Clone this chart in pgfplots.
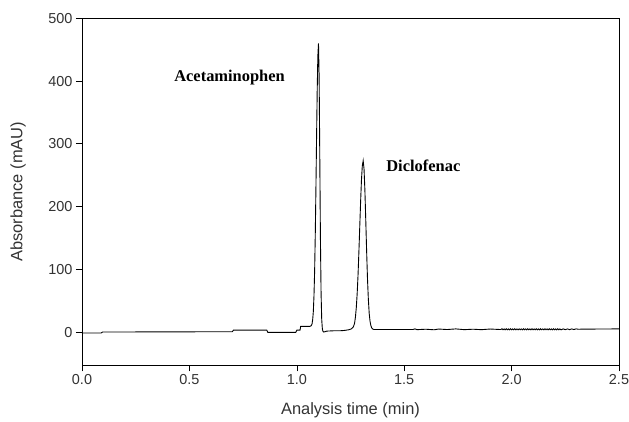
\documentclass[border=0pt]{standalone}
\usepackage{fontspec}
\setmainfont{Liberation Sans}
\newfontfamily\timesfont{Liberation Serif}
\usepackage{pgfplots}
\pgfplotsset{compat=1.18}
\definecolor{txtgray}{HTML}{333333}

\begin{document}
\begin{tikzpicture}
\begin{axis}[
    width=537bp, height=347bp, scale only axis,
    xmin=0, xmax=2.5, ymin=-53, ymax=500,
    xtick={0,0.5,...,2.5}, ytick={0,100,...,500},
    xtick pos=bottom, ytick pos=left,
    tick align=outside, major tick length=6bp,
    tick style={black, line width=0.6pt},
    axis line style={black, line width=0.7pt},
    x tick label style={/pgf/number format/fixed, /pgf/number format/fixed zerofill,
                        /pgf/number format/precision=1},
    /pgf/number format/assume math mode=true,
    tick label style={font=\fontsize{14.5}{15}\selectfont, text=txtgray},
    label style={font=\fontsize{16.5}{17}\selectfont, text=txtgray},
    xlabel={Analysis time (min)},
    ylabel={Absorbance (mAU)},
    xlabel style={at={(axis description cs:0.5,-0.13)}, anchor=center},
    ylabel style={at={(axis description cs:-0.119,0.5)}, anchor=center},
  ]
  % chromatogram trace
  \addplot[black, line width=0.9pt] coordinates {
    (0.000,-1.5) (0.090,-1.5) (0.095,0) (0.400,0.3) (0.700,0.5) (0.705,3)
    (0.860,3) (0.865,-0.5) (0.995,-0.5) (1.000,3) (1.015,3) (1.018,9)
    (1.061,9) (1.067,10) (1.071,13) (1.074,20) (1.077,33) (1.080,58)
    (1.083,97) (1.086,155) (1.089,228) (1.092,309) (1.095,385) (1.098,440)
    (1.101,460) (1.104,406) (1.107,279) (1.110,149) (1.113,62) (1.116,20)
    (1.119,5) (1.122,1) (1.126,0) (1.140,1.5) (1.170,2) (1.200,2)
    (1.220,2.5) (1.240,3.5) (1.254,5) (1.263,8) (1.269,14) (1.273,24)
    (1.277,39) (1.281,61) (1.285,90) (1.289,127) (1.293,167) (1.297,207)
    (1.301,242) (1.305,265) (1.309,273) (1.313,260) (1.317,226) (1.321,179)
    (1.325,130) (1.329,86) (1.333,53) (1.337,30) (1.341,17) (1.345,10)
    (1.349,6.4) (1.355,4.5) (1.360,4) (1.540,4) (1.550,5) (1.560,3.8)
    (1.600,4.5) (1.640,3.6) (1.660,4.8) (1.700,4) (1.740,5) (1.780,3.8)
    (1.820,4.5) (1.860,3.8) (1.900,4.8) (1.950,4) (1.955,5.2) (1.960,3.6)
    (1.965,5) (1.970,3.5) (1.975,5.2) (1.980,3.6) (1.985,5) (1.990,3.5)
    (1.995,5.2) (2.000,3.6) (2.005,5) (2.010,3.5) (2.015,5.2) (2.020,3.6)
    (2.025,5) (2.030,3.5) (2.035,5.2) (2.040,3.6) (2.045,5) (2.050,3.5)
    (2.055,5.2) (2.060,3.6) (2.065,5) (2.070,3.5) (2.075,5.2) (2.080,3.6)
    (2.085,5) (2.090,3.5) (2.095,5.2) (2.100,3.6) (2.105,5) (2.110,3.5)
    (2.115,5.2) (2.120,3.6) (2.125,5) (2.130,3.5) (2.135,5.2) (2.140,3.6)
    (2.145,5) (2.150,3.5) (2.155,5.2) (2.160,3.6) (2.165,5) (2.170,3.5)
    (2.175,5.2) (2.180,3.6) (2.185,5) (2.190,3.5) (2.195,5.2) (2.200,3.6)
    (2.205,5) (2.210,3.5) (2.215,5.2) (2.220,3.6) (2.225,5) (2.230,3.5)
    (2.240,5) (2.250,3.8) (2.260,5) (2.270,3.8) (2.280,5) (2.290,4)
    (2.300,5) (2.310,4.5) (2.400,4.8) (2.500,5)};
  \node[font=\timesfont\bfseries\fontsize{16.5}{17}\selectfont]
    at (axis cs:0.687,406) {Acetaminophen};
  \node[font=\timesfont\bfseries\fontsize{16.5}{17}\selectfont]
    at (axis cs:1.589,265) {Diclofenac};
\end{axis}
\pgfresetboundingbox
\path ([shift={(-82bp,-56bp)}]current axis.south west)
  rectangle ([shift={(10bp,18.3bp)}]current axis.north east);
\end{tikzpicture}
\end{document}
